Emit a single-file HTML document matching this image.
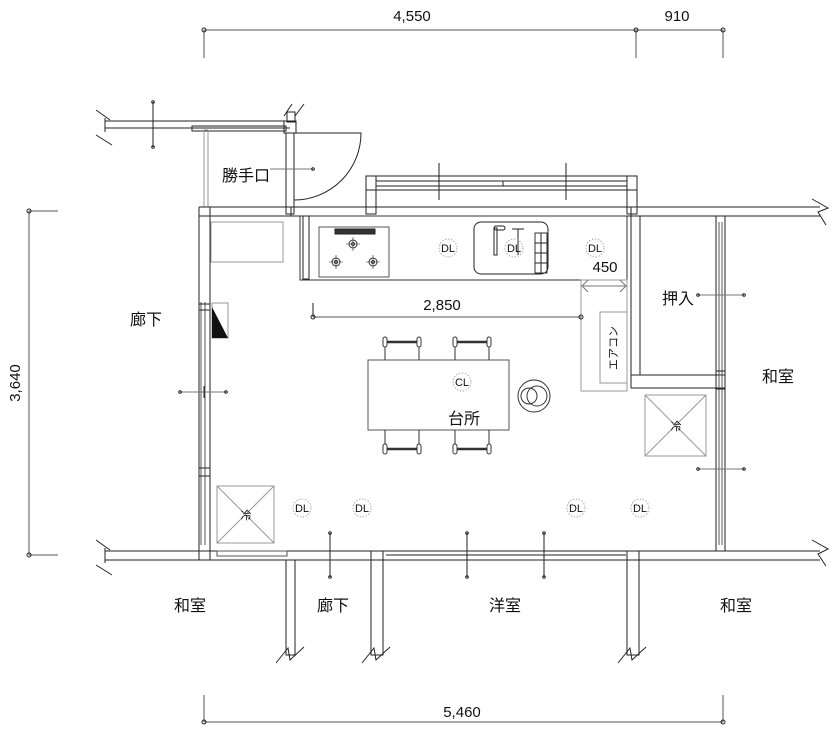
<!DOCTYPE html>
<html><head><meta charset="utf-8"><style>
html,body{margin:0;padding:0;background:#fff;}
svg{display:block;}
text{font-family:"Liberation Sans","Noto Sans CJK JP",sans-serif;fill:#111;}
</style></head><body>
<svg width="840" height="730" viewBox="0 0 840 730" xmlns="http://www.w3.org/2000/svg">
<g fill="none" stroke="#222" stroke-width="1">
<line x1="204" y1="30" x2="723" y2="30" stroke="#555"/>
<line x1="204" y1="30" x2="204" y2="58" stroke="#555"/>
<line x1="636" y1="30" x2="636" y2="58" stroke="#555"/>
<line x1="723" y1="30" x2="723" y2="58" stroke="#555"/>
<circle cx="204" cy="30" r="2"/><circle cx="636" cy="30" r="2"/><circle cx="723" cy="30" r="2"/>
<line x1="204" y1="722" x2="723" y2="722" stroke="#555"/>
<line x1="204" y1="695" x2="204" y2="722" stroke="#555"/>
<line x1="723" y1="695" x2="723" y2="722" stroke="#555"/>
<circle cx="204" cy="722" r="2"/><circle cx="723" cy="722" r="2"/>
<line x1="29" y1="211" x2="29" y2="555" stroke="#555"/>
<line x1="29" y1="211" x2="58" y2="211" stroke="#555"/>
<line x1="29" y1="555" x2="58" y2="555" stroke="#555"/>
<circle cx="29" cy="211" r="2"/><circle cx="29" cy="555" r="2"/>

<line x1="105" y1="121" x2="290" y2="121"/><line x1="105" y1="128" x2="290" y2="128"/>
<rect x="192" y="126" width="94" height="5"/>
<line x1="105" y1="118" x2="105" y2="132"/>
<path d="M96 110 L110 120 M96 135 L112 145"/>
<line x1="153" y1="102" x2="153" y2="147"/>
<circle cx="153" cy="102" r="1.3"/><circle cx="153" cy="147" r="1.3"/>
<path d="M284 116 L292 104 M295 116 L304 104"/>
<rect x="287" y="112" width="8" height="10"/>
<rect x="284" y="121" width="12" height="12"/>
<rect x="286" y="133" width="8" height="81"/>
<rect x="204" y="130" width="4" height="77" stroke="#999"/>
<path d="M294 133 L361 133 A67 67 0 0 1 294 200"/>
<line x1="270" y1="169" x2="313" y2="169" stroke="#777"/><circle cx="313" cy="169" r="1.3"/>
<line x1="199" y1="207" x2="640" y2="207"/><line x1="199" y1="216" x2="640" y2="216"/>
<line x1="291" y1="207" x2="291" y2="216"/>
<rect x="366" y="176" width="271" height="14"/>
<line x1="376" y1="181" x2="627" y2="181"/><line x1="376" y1="186" x2="627" y2="186"/>
<rect x="366" y="176" width="10" height="38"/><rect x="627" y="176" width="10" height="38"/>
<line x1="366" y1="190" x2="376" y2="190"/><line x1="627" y1="190" x2="637" y2="190"/>
<line x1="439" y1="163" x2="439" y2="200"/><line x1="566" y1="163" x2="566" y2="200"/>
<line x1="503" y1="181" x2="503" y2="186"/>
<line x1="199" y1="207" x2="199" y2="560"/><line x1="210" y1="207" x2="210" y2="560"/>
<line x1="201" y1="302" x2="201" y2="545" stroke="#555"/><line x1="205" y1="302" x2="205" y2="545" stroke="#555"/>
<rect x="199" y="304" width="11" height="6"/>
<rect x="199" y="468" width="11" height="8"/>
<line x1="180" y1="392" x2="226" y2="392" stroke="#777"/><circle cx="180" cy="392" r="1.3"/><circle cx="226" cy="392" r="1.3"/>
<line x1="204" y1="386" x2="204" y2="398"/>
<rect x="212" y="303" width="16" height="35" stroke="#999"/>
<rect x="211" y="222" width="72" height="40" stroke="#999"/>
<rect x="300" y="216" width="327" height="64" stroke="#333"/>
<rect x="303" y="216" width="6" height="63"/>
<rect x="319" y="227" width="70" height="50" stroke="#555"/>
<rect x="335" y="229" width="40" height="5" fill="#333"/>
<g stroke="#333"><circle cx="353" cy="244" r="4"/><circle cx="353" cy="244" r="1.5"/>
<circle cx="336" cy="262" r="4"/><circle cx="336" cy="262" r="1.5"/>
<circle cx="373" cy="262" r="4"/><circle cx="373" cy="262" r="1.5"/>
<path d="M346 244h14M353 237v14M329 262h14M336 255v14M366 262h14M373 255v14" stroke-width="0.6"/></g>
<rect x="474" y="222" width="74" height="52" rx="7"/>
<rect x="535" y="233" width="12" height="40" stroke="#333"/>
<line x1="535" y1="243" x2="547" y2="243"/><line x1="535" y1="253" x2="547" y2="253"/><line x1="535" y1="263" x2="547" y2="263"/><line x1="541" y1="233" x2="541" y2="273"/>
<rect x="494" y="228" width="3" height="27"/><rect x="494" y="226" width="11" height="4" rx="2"/>
<line x1="512" y1="229" x2="524" y2="229"/><line x1="518" y1="229" x2="518" y2="255"/>
<rect x="581" y="280" width="46" height="111" stroke="#999"/>
<rect x="600" y="312" width="27" height="71" stroke="#999"/>
<path d="M588 280l-6 6 6 6M620 280l6 6-6 6M582 286h45" stroke="#777"/>
<line x1="313" y1="317" x2="581" y2="317" stroke="#555"/>
<line x1="313" y1="303" x2="313" y2="317"/><circle cx="313" cy="317" r="2"/><circle cx="581" cy="317" r="2"/>
<line x1="631" y1="207" x2="631" y2="388"/><line x1="640" y1="216" x2="640" y2="375"/>
<line x1="631" y1="207" x2="820" y2="207"/><line x1="640" y1="216" x2="820" y2="216"/>
<line x1="631" y1="375" x2="725" y2="375"/><line x1="631" y1="388" x2="725" y2="388"/>
<line x1="716" y1="216" x2="716" y2="551"/><line x1="725" y1="216" x2="725" y2="551"/>
<line x1="719" y1="222" x2="719" y2="545" stroke="#555"/><line x1="722" y1="222" x2="722" y2="545" stroke="#555"/>
<rect x="716" y="371" width="9" height="18"/>
<path d="M812 199 L828 208 L818 212 L826 225"/>
<path d="M812 540 L828 549 L818 554 L826 566"/>
<line x1="698" y1="295" x2="744" y2="295" stroke="#777"/><circle cx="698" cy="295" r="1.3"/><circle cx="744" cy="295" r="1.3"/>
<line x1="698" y1="469" x2="744" y2="469" stroke="#777"/><circle cx="698" cy="469" r="1.3"/><circle cx="744" cy="469" r="1.3"/>
<g stroke="#999"><rect x="645" y="395" width="61" height="61"/><path d="M645 395L706 456M706 395L645 456"/>
<rect x="217" y="486" width="57" height="57"/><path d="M217 486L274 543M274 486L217 543"/></g>
<rect x="368" y="360" width="141" height="70" stroke="#555"/>
<g stroke="#333">
<rect x="383" y="337" width="4" height="10" rx="2"/><rect x="417" y="337" width="4" height="10" rx="2"/><line x1="387" y1="342" x2="417" y2="342" stroke-width="2.5"/><line x1="385" y1="347" x2="385" y2="360"/><line x1="419" y1="347" x2="419" y2="360"/>
<rect x="453" y="337" width="4" height="10" rx="2"/><rect x="487" y="337" width="4" height="10" rx="2"/><line x1="457" y1="342" x2="487" y2="342" stroke-width="2.5"/><line x1="455" y1="347" x2="455" y2="360"/><line x1="489" y1="347" x2="489" y2="360"/>
<rect x="383" y="444" width="4" height="10" rx="2"/><rect x="417" y="444" width="4" height="10" rx="2"/><line x1="387" y1="449" x2="417" y2="449" stroke-width="2.5"/><line x1="385" y1="430" x2="385" y2="444"/><line x1="419" y1="430" x2="419" y2="444"/>
<rect x="453" y="444" width="4" height="10" rx="2"/><rect x="487" y="444" width="4" height="10" rx="2"/><line x1="457" y1="449" x2="487" y2="449" stroke-width="2.5"/><line x1="455" y1="430" x2="455" y2="444"/><line x1="489" y1="430" x2="489" y2="444"/>
<circle cx="534" cy="396" r="16"/><circle cx="537" cy="396" r="10"/><circle cx="529" cy="396" r="8"/>
</g>
<line x1="105" y1="551" x2="820" y2="551"/><line x1="105" y1="560" x2="820" y2="560"/>
<line x1="105" y1="548" x2="105" y2="563"/>
<path d="M96 540 L110 550 M96 565 L112 575"/>
<rect x="217" y="551" width="70" height="5" stroke="#555"/>
<rect x="286" y="560" width="9" height="95"/>
<rect x="371" y="551" width="12" height="104"/>
<line x1="386" y1="555" x2="626" y2="555"/>
<rect x="627" y="551" width="12" height="104"/>
<line x1="330" y1="533" x2="330" y2="577"/><circle cx="330" cy="533" r="1.3"/><circle cx="330" cy="577" r="1.3"/>
<line x1="467" y1="533" x2="467" y2="577"/><circle cx="467" cy="533" r="1.3"/><circle cx="467" cy="577" r="1.3"/>
<line x1="544" y1="533" x2="544" y2="577"/><circle cx="544" cy="533" r="1.3"/><circle cx="544" cy="577" r="1.3"/>
<path d="M276 663 L288 648 L290 660 L304 647"/>
<path d="M362 663 L374 648 L376 660 L390 647"/>
<path d="M618 663 L630 648 L632 660 L646 647"/>
<g stroke="#aaa" stroke-dasharray="1.5 1.5">
<circle cx="448" cy="248" r="9"/><circle cx="514" cy="248" r="9"/><circle cx="595" cy="248" r="9"/>
<circle cx="462" cy="382" r="9"/>
<circle cx="302" cy="508" r="9"/><circle cx="362" cy="508" r="9"/><circle cx="576" cy="508" r="9"/><circle cx="640" cy="508" r="9"/>
</g>
</g>
<polygon points="212,307 228,338 212,338" fill="#111"/>
<g font-size="15" text-anchor="middle">
<text x="412" y="21">4,550</text><text x="677" y="21">910</text>
<text x="462" y="717">5,460</text>
<text x="20" y="383" transform="rotate(-90 20 383)">3,640</text>
<text x="442" y="310">2,850</text>
<text x="605" y="272">450</text>
</g>
<g font-size="16" text-anchor="middle">
<text x="246" y="181">勝手口</text>
<text x="146" y="325">廊下</text>
<text x="678" y="304">押入</text>
<text x="778" y="382">和室</text>
<text x="464" y="424">台所</text>
<text x="190" y="611">和室</text>
<text x="333" y="611">廊下</text>
<text x="505" y="611">洋室</text>
<text x="736" y="611">和室</text>
</g>
<g font-size="11" text-anchor="middle">
<text x="448" y="252">DL</text><text x="514" y="252">DL</text><text x="595" y="252">DL</text>
<text x="462" y="386">CL</text>
<text x="302" y="512">DL</text><text x="362" y="512">DL</text><text x="576" y="512">DL</text><text x="640" y="512">DL</text>
<text x="676" y="430">冷</text><text x="246" y="519">冷</text>
<text x="617" y="348" transform="rotate(-90 617 348)" font-size="11">エアコン</text>
</g>
</svg>
</body></html>
